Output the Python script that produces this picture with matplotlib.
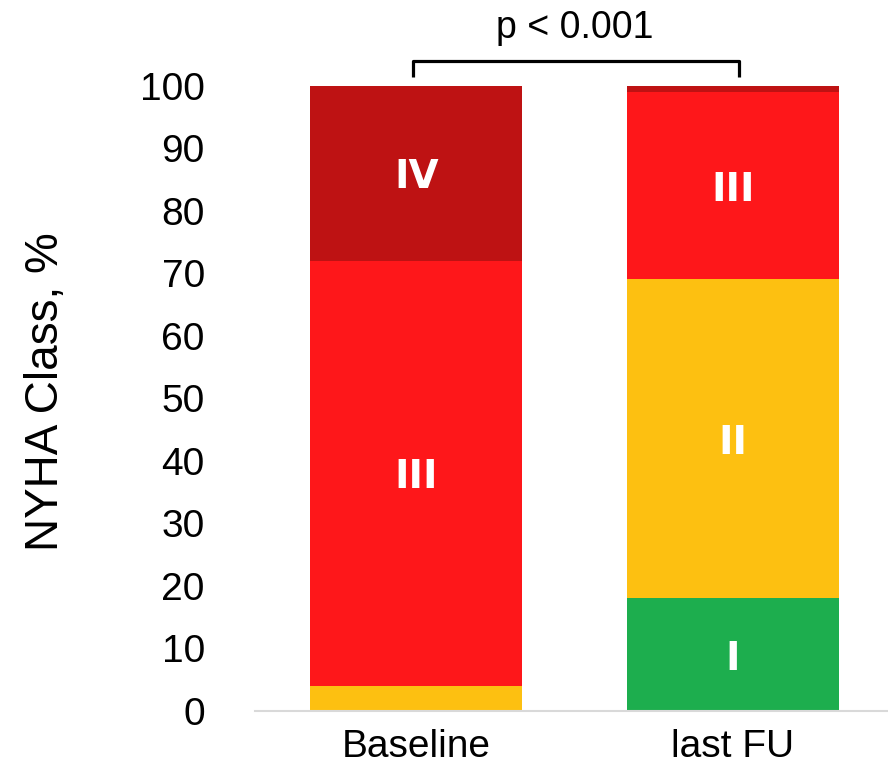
import numpy as np
import matplotlib
matplotlib.use('Agg')
import matplotlib.pyplot as plt
from matplotlib import font_manager

plt.rcParams['font.family'] = ['Liberation Sans', 'DejaVu Sans']

categories = ['Baseline', 'last FU']
classes = ['I', 'II', 'III', 'IV']
class_I = [0, 18]     # % of patients
class_II = [4, 51]
class_III = [68, 30]
class_IV = [28, 1]
colors = ['#1dae4e', '#fdc011', '#fe171a', '#be1213']
yticks = np.arange(0, 101, 10)
p_text = 'p < 0.001'

# the original y label is tall and narrow -> use a narrow face if there is one
names = {f.name for f in font_manager.fontManager.ttflist}
if 'Liberation Sans Narrow' in names:
    ylab_font, ylab_size = 'Liberation Sans Narrow', 40
else:
    ylab_font, ylab_size = 'Liberation Sans', 33

fig = plt.figure(figsize=(8.88, 7.71), dpi=100)
ax = fig.add_axes([0.287, 0.078, 0.713, 0.811])

x = np.arange(len(categories))
bottom = np.zeros(len(categories))
for name, vals, col in zip(classes, [class_I, class_II, class_III, class_IV], colors):
    vals = np.array(vals, dtype=float)
    ax.bar(x, vals, width=0.67, bottom=bottom, color=col, edgecolor='none')
    for xi, b, v in zip(x, bottom, vals):
        if v >= 10:  # small slices get no label
            ax.text(xi, b + v / 2, name, ha='center', va='center_baseline',
                    color='white', fontsize=28, fontweight='bold',
                    family='DejaVu Sans')
    bottom += vals

ax.set_ylim(0, 100)
ax.set_xlim(-0.51, 1.49)
ax.set_yticks(yticks)
ax.set_xticks(x)
ax.set_xticklabels(categories)
ax.tick_params(axis='y', length=0, pad=36, labelsize=28)
ax.tick_params(axis='x', length=0, pad=13, labelsize=28)
for s in ['top', 'right', 'left']:
    ax.spines[s].set_visible(False)
ax.spines['bottom'].set_color('#d9d9d9')
ax.spines['bottom'].set_linewidth(1.5)

ax.set_ylabel('NYHA Class, %', fontsize=ylab_size, family=ylab_font)
ax.yaxis.set_label_coords(-0.295, 0.51)

# significance bracket
ax.plot([-0.01, -0.01, 1.02, 1.02], [101.3, 103.9, 103.9, 101.3], color='black',
        lw=2.3, clip_on=False, solid_joinstyle='round', solid_capstyle='butt')
ax.text(0.5, 106.3, p_text, ha='center', va='bottom', fontsize=27, clip_on=False)

fig.savefig('out.png', dpi=100)
